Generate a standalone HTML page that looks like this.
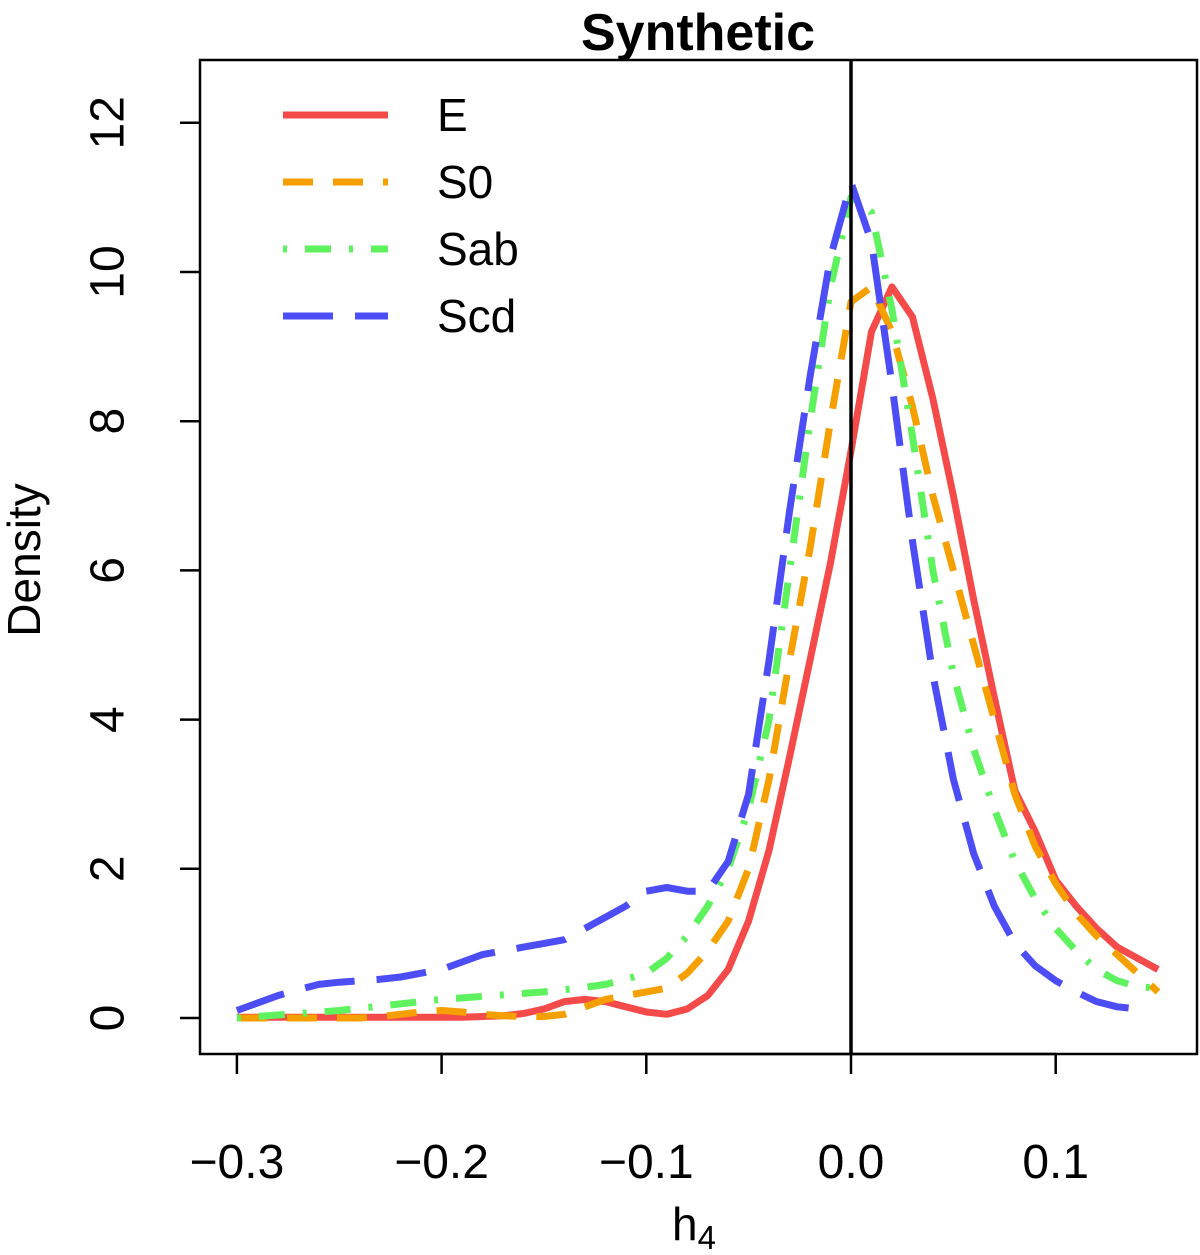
<!DOCTYPE html>
<html><head><meta charset="utf-8"><style>
html,body{margin:0;padding:0;background:#fff}
svg{display:block;font-family:"Liberation Sans",Arial,sans-serif}
</style></head><body>
<svg id="chart" width="1200" height="1255" viewBox="0 0 1200 1255">
<text x="698" y="50" font-size="52" font-weight="bold" text-anchor="middle">Synthetic</text>
<rect x="200" y="60" width="997" height="994" fill="none" stroke="#000" stroke-width="2.5"/>
<g id="xticks"></g>
<g id="yticks"></g>
<g id="series"></g>
<line x1="851" y1="60" x2="851" y2="1054" stroke="#000" stroke-width="3.5"/>
<text x="24" y="560" font-size="46" text-anchor="middle" transform="rotate(-90 24 560)" dominant-baseline="central">Density</text>
<text x="672" y="1240" font-size="46">h<tspan font-size="33" dy="9">4</tspan></text>
<g id="legend"></g>
</svg>
<script>
const xs=[-0.30,-0.29,-0.28,-0.27,-0.26,-0.25,-0.24,-0.23,-0.22,-0.21,-0.20,-0.19,-0.18,-0.17,-0.16,-0.15,-0.14,-0.13,-0.12,-0.11,-0.10,-0.09,-0.08,-0.07,-0.06,-0.05,-0.04,-0.03,-0.02,-0.01,0.00,0.01,0.02,0.03,0.04,0.05,0.06,0.07,0.08,0.09,0.10,0.11,0.12,0.13,0.14,0.15];
const seriesE=[0.01,0.01,0.01,0.01,0.01,0.01,0.01,0.01,0.01,0.01,0.01,0.01,0.02,0.03,0.06,0.12,0.22,0.25,0.22,0.15,0.08,0.05,0.12,0.3,0.65,1.3,2.25,3.5,4.8,6.1,7.6,9.2,9.8,9.4,8.3,7.0,5.6,4.3,3.05,2.5,1.85,1.5,1.2,0.95,0.8,0.65];
const seriesS0=[0,0,0,0,0,0,0,0.02,0.05,0.08,0.1,0.08,0.05,0.03,0.02,0.02,0.05,0.15,0.25,0.3,0.35,0.4,0.6,0.9,1.3,2.0,3.2,4.8,6.3,8.0,9.6,9.8,9.2,8.2,7.0,6.0,5.0,4.0,3.0,2.3,1.8,1.4,1.1,0.85,0.6,0.35];
const seriesSab=[0,0.02,0.04,0.06,0.08,0.1,0.13,0.16,0.19,0.22,0.25,0.27,0.29,0.31,0.33,0.35,0.38,0.41,0.45,0.52,0.6,0.8,1.1,1.5,2.0,2.8,4.0,6.0,8.0,9.8,11.0,10.8,9.5,7.8,6.0,4.6,3.6,2.8,2.1,1.6,1.2,0.9,0.65,0.5,0.42,0.4];
const seriesScd=[0.1,0.2,0.3,0.38,0.45,0.48,0.5,0.52,0.55,0.6,0.65,0.75,0.85,0.9,0.95,1.0,1.05,1.2,1.35,1.5,1.7,1.75,1.7,1.7,2.1,3.0,4.8,6.8,8.6,10.2,11.2,10.4,8.5,6.4,4.6,3.2,2.2,1.5,1.0,0.7,0.5,0.35,0.22,0.15,0.12,null];
const xTicks=[-0.3,-0.2,-0.1,0.0,0.1];
const xTickLabels=["\u22120.3","\u22120.2","\u22120.1","0.0","0.1"];
const yTicks=[0,2,4,6,8,10,12];
const legendNames=["E","S0","Sab","Scd"];
const NS="http://www.w3.org/2000/svg";
const X=v=>851+v*2047;
const Y=v=>1018-v*74.6;
function mk(tag,attrs,parent){const e=document.createElementNS(NS,tag);for(const k in attrs)e.setAttribute(k,attrs[k]);parent.appendChild(e);return e;}
const xg=document.getElementById('xticks');
xTicks.forEach((t,i)=>{
 const l=mk('line',{x1:X(t),x2:X(t),y1:1054,y2:1074,stroke:'#000','stroke-width':2.5},xg);
 
 
 const tx=mk('text',{x:X(t),y:1178,'font-size':48,'text-anchor':'middle'},xg);
 tx.textContent=xTickLabels[i];
 
 
});
mk('line',{x1:X(-0.3),x2:X(0.1),y1:1054,y2:1054,stroke:'#000','stroke-width':2.5},xg);
const yg=document.getElementById('yticks');
yTicks.forEach(t=>{
 const l=mk('line',{x1:180,x2:200,y1:Y(t),y2:Y(t),stroke:'#000','stroke-width':2.5},yg);
 
 
 const tx=mk('text',{x:108,y:Y(t),'font-size':48,'text-anchor':'middle','dominant-baseline':'central',transform:`rotate(-90 108 ${Y(t)})`},yg);
 tx.textContent=String(t);
 
 
});
const styles=[{c:'#f54a4a',d:''},{c:'#f5a000',d:'30 20'},{c:'#5ef25e',d:'4 18 26 18'},{c:'#4d4df5',d:'50 22'}];
const data=[seriesE,seriesS0,seriesSab,seriesScd];
const sg=document.getElementById('series');
data.forEach((s,k)=>{
 let d='';
 s.forEach((v,i)=>{if(v==null)return;d+=(d?'L':'M')+X(xs[i]).toFixed(1)+' '+Y(v).toFixed(1);});
 const p=mk('path',{d:d,fill:'none',stroke:styles[k].c,'stroke-width':7,'stroke-dasharray':styles[k].d,'stroke-linejoin':'round'},sg);
 
 
});
const lg=document.getElementById('legend');
legendNames.forEach((n,k)=>{
 const y=115+k*67;
 const l=mk('line',{x1:283,x2:388,y1:y,y2:y,stroke:styles[k].c,'stroke-width':7,'stroke-dasharray':styles[k].d},lg);
 
 
 const t=mk('text',{x:437,y:y,'font-size':46,'dominant-baseline':'central'},lg);
 t.textContent=n;
 
 
});
</script>
</body></html>
